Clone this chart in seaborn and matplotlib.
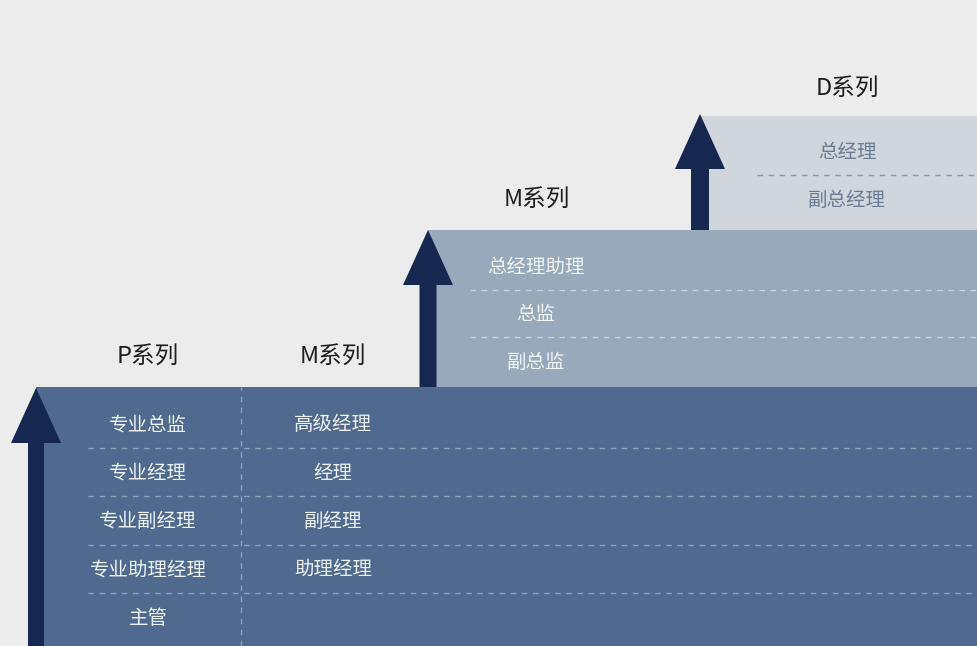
import matplotlib
matplotlib.use('Agg')
import matplotlib.pyplot as plt
from matplotlib.patches import Rectangle, FancyArrow
import seaborn as sns

# Career ladder data
p_levels = ['主管', '专业助理经理', '专业副经理', '专业经理', '专业总监']   # bottom -> top
m_low_levels = ['', '助理经理', '副经理', '经理', '高级经理']
m_high_levels = ['副总监', '总监', '总经理助理']
d_levels = ['副总经理', '总经理']
headings = ['P系列', 'M系列', 'M系列', 'D系列']

sns.set_theme(style='white')
plt.rcParams['font.family'] = ['Noto Sans CJK SC', 'DejaVu Sans']

BG = '#ececec'
NAVY = '#16284f'

fig = plt.figure(figsize=(9.78, 6.46), dpi=100, facecolor=BG)
ax = fig.add_axes([0, 0, 1, 1])
ax.set_xlim(0, 978)
ax.set_ylim(0, 646)
ax.set_facecolor(BG)
ax.axis('off')

ROW = 48.3

# tier layout: (x0, base, top, first row centre offset, fill, dash colour, text colour)
tiers = [
    dict(x0=36, base=0, top=259, off=28, fill='#4f6a8e', dash='#8fa2bb', txt='#eef2f7', sep_x=88),
    dict(x0=428, base=259, top=416, off=25, fill='#97a9bb', dash='#c8d2dc', txt='#f1f4f7', sep_x=470),
    dict(x0=700, base=416, top=530, off=30, fill='#d1d6dc', dash='#8a97a8', txt='#6a7c94', sep_x=757),
]

for t in tiers:
    ax.add_patch(Rectangle((t['x0'], t['base']), 978 - t['x0'], t['top'] - t['base'],
                           facecolor=t['fill'], edgecolor='none', zorder=1))

# bottom tier: two columns (P / M)
t = tiers[0]
for i, (p, m) in enumerate(zip(p_levels, m_low_levels)):
    y = t['base'] + t['off'] + i * ROW
    ax.text(148, y, p, ha='center', va='center', fontsize=14, color=t['txt'], zorder=3)
    if m:
        ax.text(333, y, m, ha='center', va='center', fontsize=14, color=t['txt'], zorder=3)
    if i < len(p_levels) - 1:
        ax.plot([t['sep_x'], 978], [y + ROW / 2 + 1] * 2, ls=(0, (4, 4)), lw=1,
                color=t['dash'], zorder=2)
ax.plot([241, 241], [0, t['top']], ls=(0, (4, 4)), lw=1, color=t['dash'], zorder=2)

# upper tiers
for t, levels, cx in [(tiers[1], m_high_levels, 536), (tiers[2], d_levels, 847)]:
    for i, name in enumerate(levels):
        y = t['base'] + t['off'] + i * 47.5
        ax.text(cx, y, name, ha='center', va='center', fontsize=14, color=t['txt'], zorder=3)
        if i < len(levels) - 1:
            ax.plot([t['sep_x'], 978], [y + 47.5 / 2 + 1] * 2, ls=(0, (4, 4)), lw=1,
                    color=t['dash'], zorder=2)

# headings
for name, (hx, hy) in zip(headings, [(148, 290), (333, 290), (537, 447), (847, 558)]):
    ax.text(hx, hy, name, ha='center', va='center', fontsize=17, color='#1e1e1e', zorder=3)

# arrows
for x, y0, y1, w in [(36, 0, 258, 16), (428, 259, 416, 17), (700, 416, 532, 18)]:
    ax.add_patch(FancyArrow(x, y0, 0, y1 - y0, width=w, head_width=50, head_length=55,
                            length_includes_head=True, color=NAVY, lw=0, zorder=4))

fig.savefig('out.png', dpi=100, facecolor=BG)
